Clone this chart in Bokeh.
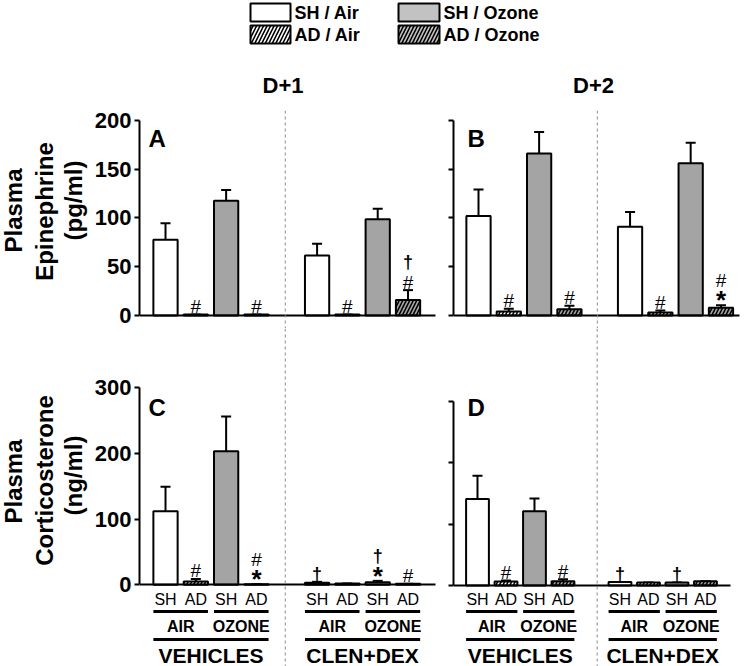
import math
from bokeh.plotting import figure
from bokeh.models import ColumnDataSource, Range1d, FixedTicker, Span, Whisker, TeeHead
from bokeh.layouts import row, column
from bokeh.embed import file_html
from bokeh.resources import INLINE
from bokeh.core.properties import value, field

FONT = "Liberation Sans"
GRAY = "#a4a4a4"
LEG_GRAY = "#c2c2c2"

# ---------------- data ----------------
positions = [1, 2, 3, 4, 6, 7, 8, 9]
groups = ["SH / Air", "AD / Air", "SH / Ozone", "AD / Ozone"]
bar_labels = ["SH", "AD", "SH", "AD"]
exposures = ["AIR", "OZONE"]
treatments = ["VEHICLES", "CLEN+DEX"]
days = ["D+1", "D+2"]
panel_letters = ["A", "B", "C", "D"]
y_titles = [["Plasma", "Epinephrine", "(pg/ml)"], ["Plasma", "Corticosterone", "(ng/ml)"]]
epi_ticks = [0, 50, 100, 150, 200]
cort_ticks = [0, 100, 200, 300]

# order: VEHICLES [SH/Air, AD/Air, SH/Ozone, AD/Ozone], CLEN+DEX [same]
epi_d1 = [77.5, 1.0, 117.5, 1.0, 61.5, 1.0, 98.5, 16.0]
epi_d1_err = [17, 0, 11, 0, 12, 0, 11, 10]
epi_d2 = [102, 4, 166, 6.5, 91, 3, 156, 8]
epi_d2_err = [27, 3, 22, 3.5, 15, 2, 21, 2.5]
cort_d1 = [112, 5, 203, 1, 3, 2, 4, 1.5]
cort_d1_err = [37, 4, 53, 0, 1.5, 0, 2, 0]
cort_d2 = [141, 6.5, 121, 7, 5.5, 5, 5, 7]
cort_d2_err = [38, 1.5, 21, 3, 0, 0, 0, 0]

marks_a = [[], ["#"], [], ["#"], [], ["#"], [], ["#", "†"]]
marks_b = [[], ["#"], [], ["#"], [], ["#"], [], ["*", "#"]]
marks_c = [[], ["#"], [], ["*", "#"], ["†"], [], ["*", "†"], ["#"]]
marks_d = [[], ["#"], [], ["#"], ["†"], [], ["†"], []]

group_fill = ["white", "white", GRAY, GRAY]
group_hatch = [" ", "/", " ", "/"]
leg_fill = ["white", "white", LEG_GRAY, LEG_GRAY]

MARK_STYLE = {"#": ("normal", "19px", 0), "†": ("bold", "18px", 0), "*": ("bold", "26px", 3)}
MARK_STEP = {"#": 20, "†": 18, "*": 17}

# frame layout in page pixels
ROW1_TOP, ROW1_BOT = 110, 328
ROW2_TOP, ROW2_BOT = 328, 666


def base_fig(width, height, xr, yr, min_left, min_right=0, min_top=0, axes=True):
    kw = dict(width=width, height=height, x_range=xr, y_range=yr, output_backend="svg",
              toolbar_location=None, min_border_left=min_left, min_border_right=min_right,
              min_border_top=min_top, min_border_bottom=0, outline_line_color=None,
              background_fill_color="white", border_fill_color="white")
    if not axes:
        kw.update(x_axis_location=None, y_axis_location=None)
    p = figure(**kw)
    p.grid.visible = False
    return p


def make_panel(vals, errs, marks, width, height, min_left, min_right, min_top, xr, yr, y_top,
               ticks, x_end, divider, letter, letter_off, tick_labels):
    p = base_fig(width, height, xr, yr, min_left, min_right, min_top)
    p.add_layout(Span(location=divider, dimension="height", line_color="#8a8a8a",
                      line_width=1, line_dash="3 3"))
    src = ColumnDataSource(dict(
        x=positions, top=vals, upper=[v + e for v, e in zip(vals, errs)],
        fill=[group_fill[i % 4] for i in range(8)],
        hatch=[group_hatch[i % 4] for i in range(8)]))
    p.vbar(x="x", top="top", bottom=0, width=0.8, source=src, fill_color=field("fill"),
           line_color="black", line_width=2, hatch_pattern=field("hatch"),
           hatch_color="black", hatch_weight=1.6, hatch_scale=7)
    p.add_layout(Whisker(base="x", lower="top", upper="upper", source=src,
                         line_color="black", line_width=2,
                         upper_head=TeeHead(size=10, line_width=2, line_color="black"),
                         lower_head=None))
    # significance marks
    for sym, (style, size, extra) in MARK_STYLE.items():
        xs, ys, ts, offs = [], [], [], []
        for i, ms in enumerate(marks):
            off = 8
            for m in ms:
                if m == sym:
                    xs.append(positions[i])
                    ys.append(vals[i] + errs[i])
                    ts.append(m)
                    offs.append(-off + extra)
                off += MARK_STEP[m]
        if xs:
            p.text(x="x", y="y", text="t", y_offset="o",
                   source=ColumnDataSource(dict(x=xs, y=ys, t=ts, o=offs)),
                   text_font=value(FONT), text_font_style=style, text_font_size=size,
                   text_align="center", text_baseline="middle", text_color="black")
    # panel letter
    p.text(x=[xr.start], y=[y_top], text=[letter], x_offset=letter_off[0], y_offset=letter_off[1],
           text_font=value(FONT), text_font_style="bold", text_font_size="24px",
           text_align="left", text_baseline="middle", text_color="black")
    xa = p.xaxis[0]
    xa.fixed_location = 0
    xa.ticker = FixedTicker(ticks=[])
    xa.major_tick_out = 0
    xa.major_tick_in = 0
    xa.minor_tick_out = 0
    xa.minor_tick_in = 0
    xa.axis_line_width = 2
    xa.axis_line_color = "black"
    xa.bounds = (xr.start, x_end)
    ya = p.yaxis[0]
    ya.bounds = (0, y_top)
    ya.ticker = FixedTicker(ticks=ticks, minor_ticks=[])
    ya.axis_line_width = 2
    ya.axis_line_color = "black"
    ya.major_tick_line_width = 2
    ya.major_tick_line_color = "black"
    ya.major_tick_out = 5
    ya.major_tick_in = 0
    ya.minor_tick_out = 0
    ya.minor_tick_in = 0
    ya.major_label_text_font = FONT
    ya.major_label_text_font_style = "bold"
    ya.major_label_text_color = "black"
    ya.major_label_text_font_size = "22px"
    if tick_labels:
        ya.major_label_standoff = 3
    else:
        ya.major_label_standoff = 0
        ya.major_label_overrides = {t: "" for t in ticks}
    return p


def add_categories(p, yr):
    """Group labels under the bars; vertical placement given in page pixels."""
    def yv(py):
        return yr.end - (py - ROW2_TOP) * (yr.end - yr.start) / (ROW2_BOT - ROW2_TOP)
    p.text(x=positions, y=[yv(599)] * 8, text=bar_labels * 2, text_font=value(FONT),
           text_font_size="16px", text_align="center", text_baseline="middle", text_color="black")
    pl = [positions[i] - 0.4 for i in (0, 2, 4, 6)]
    pr = [positions[i + 1] + 0.4 for i in (0, 2, 4, 6)]
    p.segment(x0=pl, y0=[yv(611)] * 4, x1=pr, y1=[yv(611)] * 4, line_width=3, line_color="black")
    p.text(x=[(positions[i] + positions[i + 1]) / 2 for i in (0, 2, 4, 6)], y=[yv(626)] * 4,
           text=exposures * 2, text_font=value(FONT), text_font_style="bold",
           text_font_size="16px", text_align="center", text_baseline="middle", text_color="black")
    tl = [positions[0] - 0.4, positions[4] - 0.4]
    tr = [positions[3] + 0.4, positions[7] + 0.4]
    p.segment(x0=tl, y0=[yv(639)] * 2, x1=tr, y1=[yv(639)] * 2, line_width=3, line_color="black")
    p.text(x=[(positions[0] + positions[3]) / 2, (positions[4] + positions[7]) / 2],
           y=[yv(654.5)] * 2, text=treatments, text_font=value(FONT), text_font_style="bold",
           text_font_size="21px", text_align="center", text_baseline="middle", text_color="black")


# ranges
xr_left = Range1d(0.142, 10.17)
xr_b = Range1d(0.175, 9.71)
xr_d = Range1d(0.158, 10.30)
yr_ab = Range1d(-13.32, 210.04)
yr_c = Range1d(-124.22, 389.7)
yr_d = Range1d(-132.07, 419.0)

pa = make_panel(epi_d1, epi_d1_err, marks_a, 355, 230, 51, 0, 12, xr_left, yr_ab, 200, epi_ticks,
                9.9, 4.95, panel_letters[0], (9, 18), True)
pb = make_panel(epi_d2, epi_d2_err, marks_b, 307, 230, 10, 8, 12, xr_b, yr_ab, 200, epi_ticks,
                9.6, 4.92, panel_letters[1], (14, 18), False)
pc = make_panel(cort_d1, cort_d1_err, marks_c, 355, 338, 51, 0, 0, xr_left, yr_c, 300, cort_ticks,
                9.9, 4.95, panel_letters[2], (9, 20), True)
pd = make_panel(cort_d2, cort_d2_err, marks_d, 307, 338, 10, 8, 0, xr_d, yr_d, 300, cort_ticks,
                9.88, 5.2, panel_letters[3], (14, 6), False)
add_categories(pc, yr_c)
add_categories(pd, yr_d)

# header: legend + day titles
hdr = base_fig(662, 98, Range1d(88, 750), Range1d(98, 0), 0, axes=False)
hdr.quad(left=[250, 250, 398, 398], right=[290, 290, 439, 439], top=[3, 25, 3, 25],
         bottom=[21, 43, 21, 43], fill_color=[leg_fill[0], leg_fill[1], leg_fill[2], leg_fill[3]],
         hatch_pattern=[group_hatch[0], group_hatch[1], group_hatch[2], group_hatch[3]],
         hatch_color="black", hatch_weight=1.6, hatch_scale=7, line_color="black", line_width=2)
hdr.text(x=[294, 294, 443, 443], y=[12, 34, 12, 34], text=[groups[0], groups[1], groups[2], groups[3]],
         text_font=value(FONT), text_font_style="bold", text_font_size="18px",
         text_align="left", text_baseline="middle", text_color="black")
hdr.text(x=[282.5, 593], y=[84.5, 84.5], text=days, text_font=value(FONT), text_font_style="bold",
         text_font_size="22px", text_align="center", text_baseline="middle", text_color="black")

# y titles
tt = base_fig(88, 666, Range1d(0, 88), Range1d(666, 0), 0, axes=False)
tt.text(x=[13, 43.5, 73, 13, 43.5, 73], y=[210, 211, 200, 481, 480, 475],
        text=y_titles[0] + y_titles[1], angle=math.pi / 2, text_font=value(FONT),
        text_font_style="bold", text_font_size="24px", text_align="center",
        text_baseline="middle", text_color="black")

layout = row(tt, column(hdr, row(pa, pb), row(pc, pd)))

open("out.html", "w").write(file_html(layout, INLINE))
